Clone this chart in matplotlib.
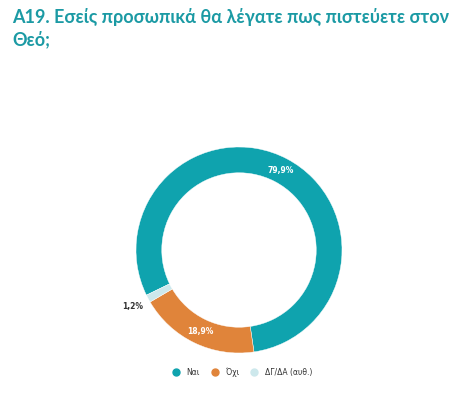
import matplotlib
matplotlib.use("Agg")
import matplotlib.pyplot as plt
from matplotlib.lines import Line2D
import numpy as np

categories = ["Ναι", "Όχι", "ΔΓ/ΔΑ (αυθ.)"]
values = [79.9, 18.9, 1.2]
labels = ["79,9%", "18,9%", "1,2%"]
colors = ["#0fa3ae", "#e0843a", "#cde8ec"]
title_line1 = "A19. Εσείς προσωπικά θα λέγατε πως πιστεύετε στον"
title_line2 = "Θεό;"

W, H = 474, 396
fig = plt.figure(figsize=(W/100, H/100), dpi=100)
fig.patch.set_facecolor("white")

tkw = dict(ha="left", va="top", fontweight="bold", color="#1b9aa4", family="Lato")
t1 = fig.text(12/W, 1-8/H, title_line1, fontsize=14, **tkw)
fig.canvas.draw()
w = t1.get_window_extent().width
fs = 14 * 438 / w
t1.set_fontsize(fs)
fig.text(12/W, 1-30/H, title_line2, fontsize=fs, **tkw)

cx, cy, R = 239, 250, 103
ax = fig.add_axes([(cx-R)/W, 1-(cy+R)/H, 2*R/W, 2*R/H])
wedges, _ = ax.pie(values, colors=colors, startangle=206, counterclock=False,
                   radius=1.0, wedgeprops=dict(width=0.25, edgecolor="white", linewidth=0.3))
ax.set_xlim(-1, 1); ax.set_ylim(-1, 1)
ax.set_aspect("equal")
ax.axis("off")

total = sum(values)
ang = 206
for i, (v, lab) in enumerate(zip(values, labels)):
    span = 360*v/total
    mid = np.deg2rad(ang - span/2)
    ang -= span
    if i < 2:
        r = 0.875
        ax.text(r*np.cos(mid), r*np.sin(mid), lab, ha="center", va="center",
                fontsize=5.5, fontweight="bold", color="white")
    else:
        r = 1.08
        ax.text(r*np.cos(mid)+0.02, r*np.sin(mid)-0.04, lab, ha="right", va="center",
                fontsize=5.5, fontweight="bold", color="#333333")

handles = [Line2D([], [], marker="o", linestyle="", markersize=5,
                  markerfacecolor=c, markeredgecolor=c) for c in colors]
fig.legend(handles, categories, loc="center", bbox_to_anchor=(240/W, 1-372/H),
           ncol=3, frameon=False, fontsize=5.5, handletextpad=0.4, columnspacing=1.0,
           labelcolor="#333333")

fig.savefig("out.png", dpi=100, facecolor="white")
